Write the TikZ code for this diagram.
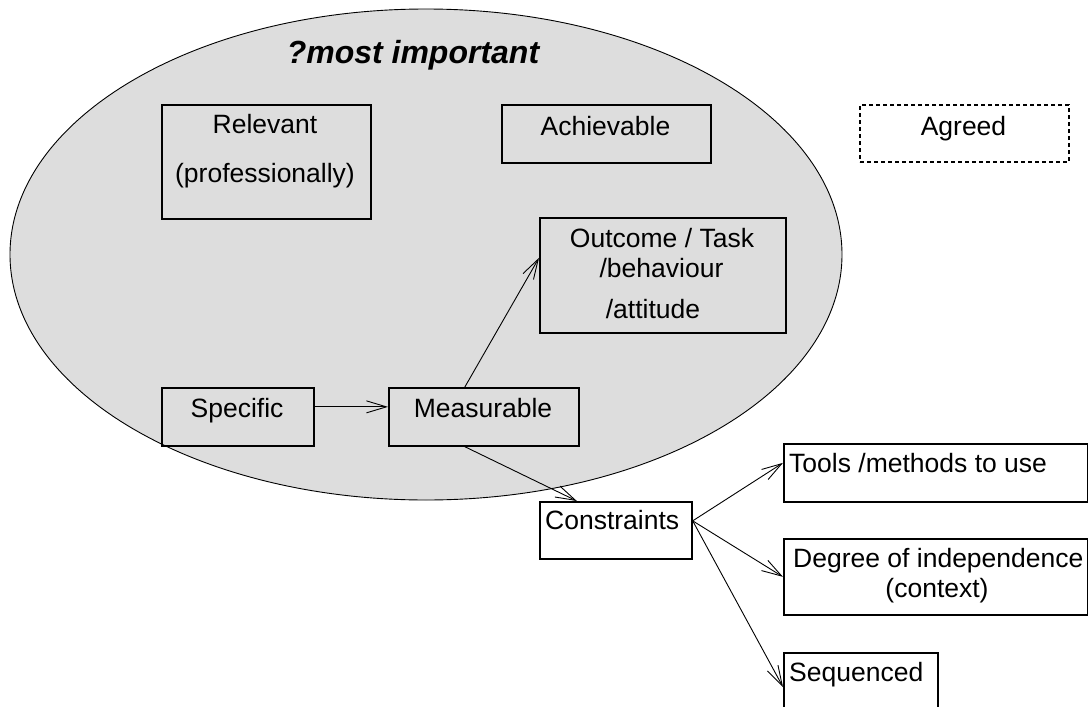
\documentclass[tikz,border=0pt]{standalone}
\usepackage{fontspec}
\setmainfont{Liberation Sans}
\usetikzlibrary{arrows.meta,shapes.geometric}
\definecolor{ovalfill}{RGB}{221,221,221}
\begin{document}
\begin{tikzpicture}[x=1pt,y=-1pt,
  box/.style={draw=black, line width=1.7pt, rectangle, inner sep=0pt, anchor=north west},
  dotbox/.style={box, line width=2pt, dash pattern=on 4pt off 3pt},
  lbl/.style={inner sep=0pt, anchor=base, font=\fontsize{26.5}{31}\selectfont},
  conn/.style={line width=0.9pt, -{Straight Barb[length=20pt,width=12pt,line width=0.9pt]}},
]
\useasboundingbox (0,0) rectangle (1088,707);
\clip (0,0) rectangle (1088,707);
\fill[white] (0,0) rectangle (1088,707);

% grey oval holding the core criteria
\node[ellipse, draw=black, line width=0.9pt, fill=ovalfill, inner sep=0pt,
      minimum width=832pt, minimum height=491pt] (oval) at (426,254.5) {};
\node[inner sep=0pt, anchor=base, font=\fontsize{32}{38}\selectfont\bfseries\itshape]
      (title) at (413,63) {?most important};

% boxes
\node[box, minimum width=209pt, minimum height=114pt] (rel)   at (161,104) {};
\node[box, minimum width=209pt, minimum height=58pt]  (ach)   at (501,104) {};
\node[dotbox, minimum width=209pt, minimum height=57pt] (agr) at (859,104) {};
\node[box, minimum width=246pt, minimum height=115pt] (outc)  at (539,217) {};
\node[box, minimum width=152pt, minimum height=58pt]  (spec)  at (161,387) {};
\node[box, minimum width=190pt, minimum height=58pt]  (meas)  at (388,387) {};
\node[box, minimum width=152pt, minimum height=57pt]  (cons)  at (539,501) {};
\node[box, minimum width=304pt, minimum height=58pt]  (tools) at (783,443) {};
\node[box, minimum width=304pt, minimum height=76pt]  (deg)   at (783,538) {};
\node[box, minimum width=154pt, minimum height=80pt]  (seq)   at (783,652) {};

% box texts
\node[lbl] (reltxt)  at (265,133) {Relevant};
\node[lbl] (reltxtb) at (265,182) {(professionally)};
\node[lbl] (achtxt)  at (605.5,135) {Achievable};
\node[lbl] (agrtxt)  at (963.5,135) {Agreed};
\node[lbl] (outtxt)  at (662,247) {Outcome / Task};
\node[lbl] (outtxtb) at (661.5,277) {/behaviour};
\node[lbl] (outtxtc) at (653,318) {/attitude};
\node[lbl] (spectxt) at (237,417) {Specific};
\node[lbl] (meastxt) at (483,417) {Measurable};
\node[lbl, anchor=base west] (constxt) at (545,529) {Constraints};
\node[lbl, anchor=base west] (tooltxt) at (789,472) {Tools /methods to use};
\node[lbl, anchor=base west] (degtxt)  at (793,567) {Degree of independence};
\node[lbl] (degtxtb) at (937,597) {(context)};
\node[lbl, anchor=base west] (seqtxt)  at (789,681) {Sequenced};

% connectors
\draw[conn] ([yshift=10pt]spec.east) -- ([yshift=10pt]meas.west);
\draw[conn] ([xshift=-19pt]meas.north) -- ([yshift=17.5pt]outc.west);
\draw[conn] ([xshift=-19pt]meas.south) -- ([xshift=-39pt]cons.north);
\draw[conn] ([yshift=9.5pt]cons.east) -- ([yshift=10pt]tools.west);
\draw[conn] ([yshift=9.5pt]cons.east) -- (deg.west);
\draw[conn] ([yshift=9.5pt]cons.east) -- ([yshift=-35pt]seq.north west);
\end{tikzpicture}
\end{document}
